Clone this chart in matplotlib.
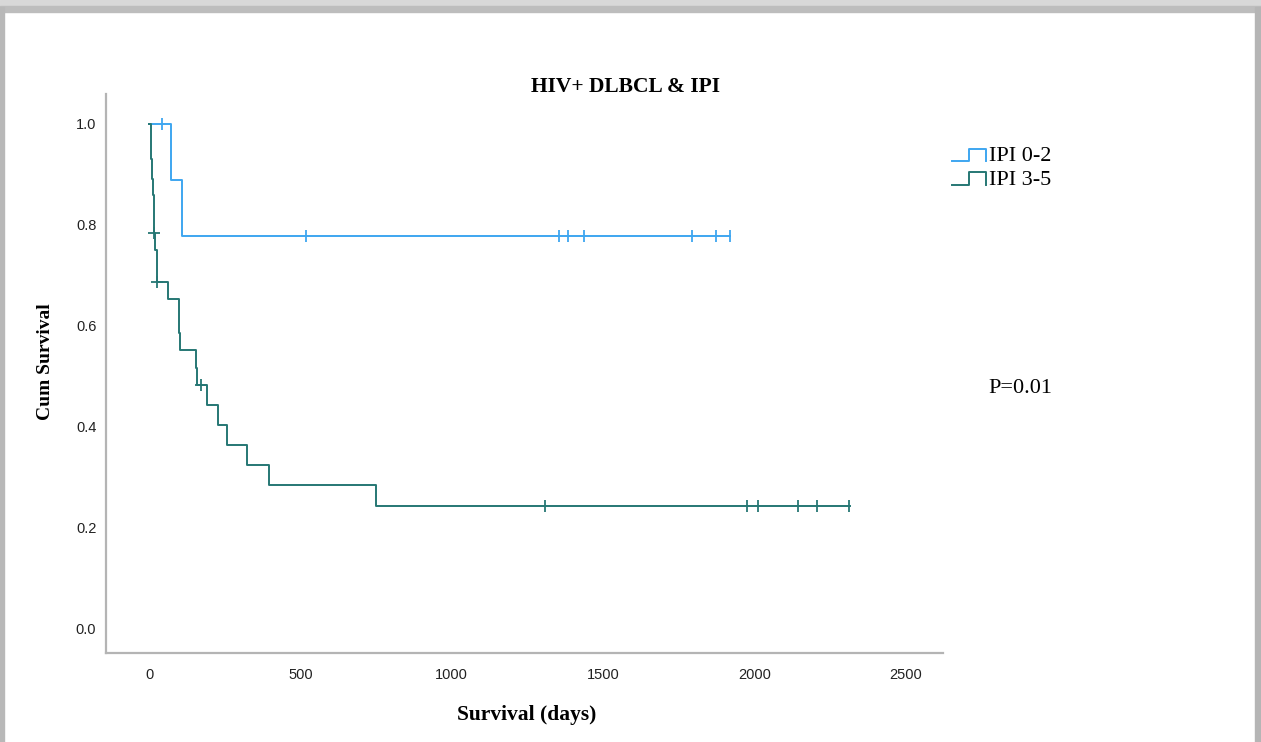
import numpy as np
import matplotlib.pyplot as plt
from matplotlib.lines import Line2D
from matplotlib.legend_handler import HandlerBase
from matplotlib.patches import Rectangle

# Kaplan-Meier steps
ipi02_time = [0, 73, 109]
ipi02_surv = [1.0, 0.889, 0.778]
ipi02_end = 1919
ipi02_cens_time = [43, 519, 1354, 1384, 1437, 1794, 1873, 1919]
ipi02_cens_surv = [1.0, 0.778, 0.778, 0.778, 0.778, 0.778, 0.778, 0.778]

ipi35_time = [0, 5, 8, 10, 12, 15, 17, 21, 25, 63, 99, 100, 102, 155, 160,
              191, 227, 257, 324, 397, 750]
ipi35_surv = [1.0, 0.96, 0.93, 0.89, 0.86, 0.82, 0.784, 0.75, 0.687, 0.653,
              0.62, 0.586, 0.552, 0.517, 0.483, 0.444, 0.404, 0.364, 0.325,
              0.285, 0.244]
ipi35_end = 2315
ipi35_cens_time = [17, 25, 172, 1308, 1975, 2012, 2144, 2207, 2312]
ipi35_cens_surv = [0.784, 0.687, 0.483, 0.244, 0.244, 0.244, 0.244, 0.244, 0.244]

labels = ['IPI 0-2', 'IPI 3-5']
colors = ['#3ea6f0', '#267774']
xticks = [0, 500, 1000, 1500, 2000, 2500]
yticks = [0.0, 0.2, 0.4, 0.6, 0.8, 1.0]


class StepHandler(HandlerBase):
    # little step icon like SPSS draws in its legend
    def create_artists(self, legend, orig_handle, xd, yd, w, h, fontsize, trans):
        xs = [xd, xd + w * 0.5, xd + w * 0.5, xd + w, xd + w]
        ys = [yd + h * 0.0, yd + h * 0.0, yd + h * 0.8, yd + h * 0.8, yd + h * 0.0]
        ln = Line2D(xs, ys, color=orig_handle.get_color(), lw=1.4, transform=trans)
        return [ln]


fig = plt.figure(figsize=(12.61, 7.42), dpi=100)
fig.patch.set_facecolor('white')

# screenshot frame round the chart
fig.patches.append(Rectangle((0, 0.992), 1, 0.008, transform=fig.transFigure,
                             color='#d8d8d8', zorder=0))
fig.patches.append(Rectangle((0, 0.984), 1, 0.008, transform=fig.transFigure,
                             color='#bdbdbd', zorder=0))
fig.patches.append(Rectangle((0, 0), 0.003, 0.99, transform=fig.transFigure,
                             color='#b8b8b8', zorder=0))
fig.patches.append(Rectangle((0.9955, 0), 0.0045, 0.99, transform=fig.transFigure,
                             color='#b5b5b5', zorder=0))

ax = fig.add_axes([0.0841, 0.1199, 0.6637, 0.7534])

t = ipi02_time + [ipi02_end]
s = ipi02_surv + [ipi02_surv[-1]]
l1, = ax.step(t, s, where='post', color=colors[0], lw=1.4)
ax.plot(ipi02_cens_time, ipi02_cens_surv, '|', color=colors[0], ms=8, mew=1.3)

t = ipi35_time + [ipi35_end]
s = ipi35_surv + [ipi35_surv[-1]]
l2, = ax.step(t, s, where='post', color=colors[1], lw=1.4)
ax.plot(ipi35_cens_time, ipi35_cens_surv, '|', color=colors[1], ms=8, mew=1.3)
ax.plot(ipi35_cens_time[:3], ipi35_cens_surv[:3], '_', color=colors[1], ms=8, mew=1.3)

ax.set_xlim(-142, 2623)
ax.set_ylim(-0.048, 1.059)
ax.set_xticks(xticks)
ax.set_yticks(yticks)
ax.set_xticklabels([str(x) for x in xticks], family='Liberation Sans', fontsize=10.5)
ax.set_yticklabels(['%.1f' % y for y in yticks], family='Liberation Sans', fontsize=10.5)
ax.tick_params(axis='y', length=0, pad=7, colors='#222222')
ax.tick_params(axis='x', length=0, pad=11, colors='#222222')
for side in ['top', 'right']:
    ax.spines[side].set_visible(False)
for side in ['left', 'bottom']:
    ax.spines[side].set_color('#b4b4b4')
    ax.spines[side].set_linewidth(1.6)

fig.text(0.496, 0.883, 'HIV+ DLBCL & IPI', ha='center', va='center',
         family='Liberation Serif', weight='bold', fontsize=15.5)
fig.text(0.036, 0.512, 'Cum Survival', ha='center', va='center', rotation=90,
         family='Liberation Serif', weight='bold', fontsize=14)
fig.text(0.418, 0.037, 'Survival (days)', ha='center', va='center',
         family='Liberation Serif', weight='bold', fontsize=15.5)
fig.text(0.809, 0.477, 'P=0.01', ha='center', va='center',
         family='Liberation Serif', fontsize=16)

leg = fig.legend([l1, l2], labels, loc='upper left', bbox_to_anchor=(0.743, 0.825),
                 frameon=False, handler_map={Line2D: StepHandler()},
                 prop={'family': 'Liberation Serif', 'size': 16},
                 handlelength=1.5, handletextpad=0.15, labelspacing=0.15,
                 borderpad=0.2)

fig.savefig('out.png', dpi=100)
